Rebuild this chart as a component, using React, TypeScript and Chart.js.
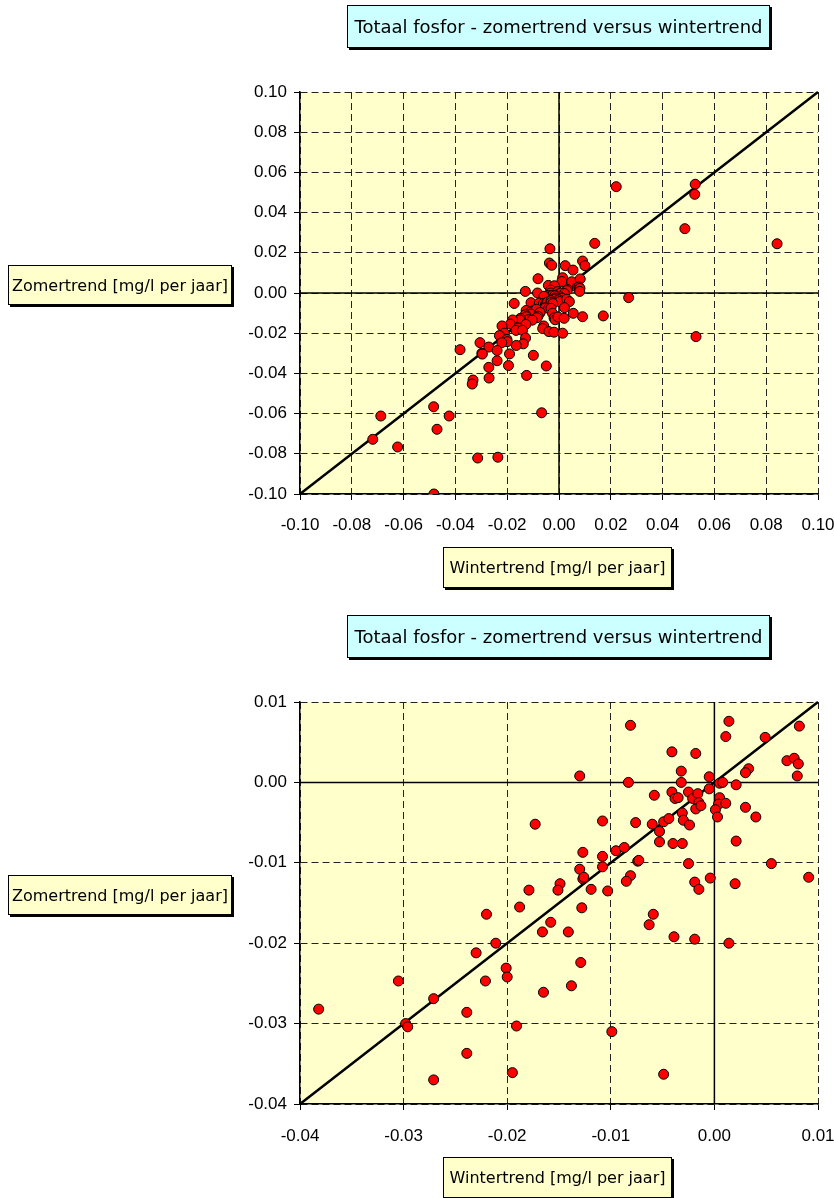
import React, { useEffect, useRef } from "react";
import { Chart, registerables } from "chart.js";

Chart.register(...registerables);

const TITLE = "Totaal fosfor - zomertrend versus wintertrend";
const X_LABEL = "Wintertrend [mg/l per jaar]";
const Y_LABEL = "Zomertrend [mg/l per jaar]";

// Wintertrend (x) and Zomertrend (y) per station, mg/l per jaar
const WINTER_TREND = [
  -0.0081, 0.0014, 0.0011, 0.0049, 0.0082, -0.0041, -0.0018, 0.007, 0.0077, 0.0081,
  0.008, 0.0033, 0.003, -0.0032, -0.013, -0.0083, -0.0032, -0.0005, -0.0005, 0.0005,
  0.0008, 0.0021, -0.0041, -0.0038, -0.0035, -0.0025, -0.0021, -0.0016, -0.0015, -0.0018,
  -0.0013, -0.0058, 0.0005, 0.0004, 0.0011, 0.0001, 0.0003, 0.003, 0.004, -0.0108,
  -0.0076, -0.006, -0.0053, -0.0049, -0.0044, -0.0031, -0.003, -0.0024, -0.0053, -0.004,
  -0.0031, 0.0021, -0.0127, -0.0108, -0.0095, -0.0087, -0.0108, -0.0074, -0.0073, -0.0025,
  0.0055, -0.013, -0.0127, -0.0126, -0.0081, -0.0085, -0.0119, -0.0103, -0.0149, -0.0151,
  -0.0019, -0.0015, -0.0004, 0.002, 0.0091, -0.0128, -0.0173, -0.0179, -0.0188, -0.0158,
  -0.0166, -0.0141, -0.0059, -0.0063, -0.0039, -0.0019, 0.0014, -0.0129, -0.0138, -0.0165,
  -0.0099, -0.0049, -0.022, -0.0211, -0.023, -0.0201, -0.02, -0.0221, -0.0305, -0.0271,
  -0.0382, -0.0239, -0.0298, -0.0296, -0.0191, -0.0239, -0.0195, -0.0271,
  0.0221, 0.0526, 0.0524, 0.0486, 0.0842, 0.0138, -0.0035, -0.0037, -0.0028, 0.0024,
  0.0054, 0.0091, 0.01, 0.0269, 0.0171, 0.0529, -0.0067, -0.0688, -0.0719, -0.0623,
  -0.0484, -0.0424, -0.0471, -0.0314, -0.0236, -0.0483, -0.0332, -0.0335, -0.0125, -0.027,
];
const ZOMER_TREND = [
  0.0071, 0.0076, 0.0057, 0.0056, 0.007, 0.0038, 0.0036, 0.0027, 0.003, 0.0023,
  0.0008, 0.0017, 0.0012, 0.0014, 0.0008, 0.0, 0.0, 0.0007, -0.0008, -0.0001,
  0.0, -0.0003, -0.0012, -0.002, -0.0019, -0.0012, -0.002, -0.0014, -0.0025, -0.0033,
  -0.0029, -0.0016, -0.0019, -0.0027, -0.0026, -0.0034, -0.0043, -0.0031, -0.0043, -0.0048,
  -0.005, -0.0052, -0.0061, -0.0049, -0.0045, -0.0038, -0.0047, -0.0053, -0.0074, -0.0076,
  -0.0076, -0.0073, -0.0087, -0.0092, -0.0085, -0.0081, -0.0105, -0.0098, -0.0097, -0.0101,
  -0.0101, -0.0108, -0.012, -0.0118, -0.0116, -0.0123, -0.0133, -0.0135, -0.0126, -0.0134,
  -0.0124, -0.0133, -0.0119, -0.0126, -0.0118, -0.0156, -0.0052, -0.0134, -0.0155, -0.0174,
  -0.0186, -0.0186, -0.0164, -0.0177, -0.0192, -0.0195, -0.02, -0.0224, -0.0253, -0.0261,
  -0.031, -0.0363, -0.0164, -0.02, -0.0212, -0.0231, -0.0242, -0.0247, -0.0247, -0.0269,
  -0.0282, -0.0286, -0.03, -0.0304, -0.0303, -0.0337, -0.0361, -0.037,
  0.0529, 0.0541, 0.0491, 0.032, 0.0245, 0.0247, 0.022, 0.0149, 0.0138, 0.0136,
  0.0114, 0.0159, 0.0136, -0.0023, -0.0114, -0.0217, -0.0596, -0.0612, -0.0728, -0.0766,
  -0.0566, -0.0612, -0.0678, -0.0821, -0.0817, -0.1, -0.0433, -0.0453, -0.041, -0.0423,
];

const TICKS_FULL = [-0.1, -0.08, -0.06, -0.04, -0.02, 0.0, 0.02, 0.04, 0.06, 0.08, 0.1];
const TICKS_ZOOM = [-0.04, -0.03, -0.02, -0.01, 0.0, 0.01];

type Pt = { x: number; y: number };

const fmt = (v: number) => (Math.abs(v) < 1e-9 ? 0 : v).toFixed(2);

const bgPlugin = {
  id: "plotBg",
  beforeDraw(chart: any) {
    const { ctx, chartArea } = chart;
    ctx.save();
    ctx.fillStyle = "#FFFFCC";
    ctx.fillRect(chartArea.left, chartArea.top, chartArea.right - chartArea.left, chartArea.bottom - chartArea.top);
    ctx.restore();
  },
};

function axisOpts(ticks: number[], horizontal: boolean, size: number, labelPad: number) {
  const min = ticks[0];
  const max = ticks[ticks.length - 1];
  return {
    type: "linear",
    position: horizontal ? "bottom" : "left",
    min,
    max,
    afterBuildTicks: (s: any) => {
      s.ticks = ticks.map((v) => ({ value: v }));
    },
    afterFit: (s: any) => {
      if (horizontal) {
        s.height = size;
        s.paddingLeft = 0;
        s.paddingRight = 0;
      } else {
        s.width = size;
        s.paddingTop = 0;
        s.paddingBottom = 0;
      }
    },
    ticks: {
      callback: (v: any) => fmt(Number(v)),
      font: { family: '"Liberation Sans", Arial, sans-serif', size: 17 },
      color: "#000",
      padding: labelPad,
      autoSkip: false,
      maxRotation: 0,
    },
    grid: {
      color: "#222",
      lineWidth: 1,
      tickLength: 6,
      tickColor: "#000",
      tickWidth: 1,
      tickBorderDash: [],
    },
    border: { display: true, color: "#000", width: 1.5, dash: [7, 4] },
  };
}

function ScatterChart({ ticks, height, padTop, xAxisH, xLabelPad, top }: { ticks: number[]; height: number; padTop: number; xAxisH: number; xLabelPad: number; top: number }) {
  const ref = useRef<HTMLCanvasElement | null>(null);
  useEffect(() => {
    if (!ref.current) return;
    const lo = ticks[0];
    const hi = ticks[ticks.length - 1];
    const pts: Pt[] = [];
    WINTER_TREND.forEach((x, i) => {
      const y = ZOMER_TREND[i];
      if (x >= lo - 1e-9 && x <= hi + 1e-9 && y >= lo - 1e-9 && y <= hi + 1e-9) pts.push({ x, y });
    });
    const chart = new Chart(ref.current, {
      type: "scatter",
      data: {
        datasets: [
          {
            label: "stations",
            data: pts,
            backgroundColor: "#FF0000",
            borderColor: "#000",
            borderWidth: 1,
            pointRadius: 5,
            pointHoverRadius: 5,
          },
          {
            label: "1:1",
            data: [
              { x: lo, y: lo },
              { x: hi, y: hi },
            ],
            showLine: true,
            borderColor: "#000",
            borderWidth: 2.5,
            pointRadius: 0,
            clip: false,
          },
          {
            label: "x0",
            data: [
              { x: lo, y: 0 },
              { x: hi, y: 0 },
            ],
            showLine: true,
            borderColor: "#000",
            borderWidth: 1.5,
            pointRadius: 0,
          },
          {
            label: "y0",
            data: [
              { x: 0, y: lo },
              { x: 0, y: hi },
            ],
            showLine: true,
            borderColor: "#000",
            borderWidth: 1.5,
            pointRadius: 0,
          },
        ],
      },
      options: {
        animation: false,
        responsive: false,
        maintainAspectRatio: false,
        devicePixelRatio: 1,
        layout: { padding: { left: 0, right: 16, top: padTop, bottom: 0 } },
        plugins: { legend: { display: false }, tooltip: { enabled: false }, title: { display: false } },
        scales: {
          x: axisOpts(ticks, true, xAxisH, xLabelPad) as any,
          y: axisOpts(ticks, false, 300, 7) as any,
        },
      },
      plugins: [bgPlugin],
    } as any);
    return () => chart.destroy();
  }, []);
  return <canvas ref={ref} width={834} height={height} style={{ position: "absolute", left: 0, top, width: 834, height }} />;
}

const boxBase: React.CSSProperties = {
  position: "absolute",
  border: "1px solid #000",
  boxShadow: "2px 2px 0 #000",
  fontFamily: '"DejaVu Sans", sans-serif',
  color: "#000",
  display: "flex",
  alignItems: "center",
  justifyContent: "center",
  boxSizing: "border-box",
  whiteSpace: "nowrap",
};

function Boxes({ dy }: { dy: number }) {
  return (
    <>
      <div style={{ ...boxBase, left: 347, top: 5 + dy, width: 423, height: 43, background: "#CCFFFF", fontSize: 18 }}>{TITLE}</div>
      <div style={{ ...boxBase, left: 8, top: 265 + dy, width: 224, height: 40, background: "#FFFFCC", fontSize: 16 }}>{Y_LABEL}</div>
      <div style={{ ...boxBase, left: 443, top: 547 + dy, width: 229, height: 41, background: "#FFFFCC", fontSize: 16 }}>{X_LABEL}</div>
    </>
  );
}

export default function App() {
  return (
    <div style={{ position: "absolute", left: 0, top: 0, width: 834, height: 1198, background: "#fff", overflow: "hidden" }}>
      <ScatterChart ticks={TICKS_FULL} height={600} padTop={92} xAxisH={106} xLabelPad={15} top={0} />
      <ScatterChart ticks={TICKS_ZOOM} height={598} padTop={102} xAxisH={94} xLabelPad={16} top={600} />
      <Boxes dy={0} />
      <Boxes dy={610} />
    </div>
  );
}
